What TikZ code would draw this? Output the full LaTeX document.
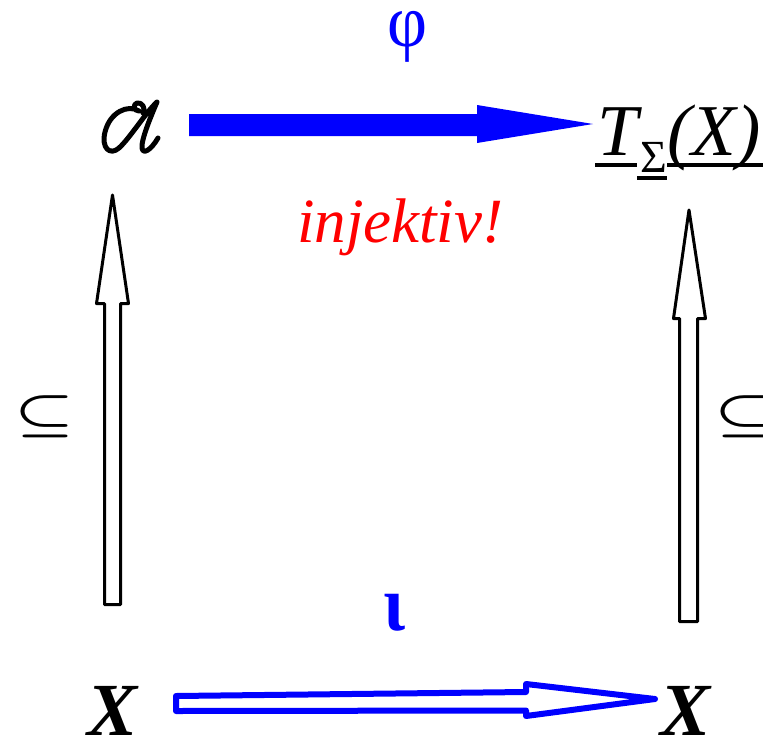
\documentclass[tikz,border=0pt]{standalone}
\usepackage{fontspec}
\setmainfont{Liberation Serif}
\usetikzlibrary{calc}
\begin{document}
\begin{tikzpicture}[x=1pt,y=-1pt,
  lbl/.style={inner sep=0pt,outer sep=0pt},
  hollowblack/.style={draw=black,line width=3pt,fill=white,line join=round},
  hollowblue/.style={draw=blue,line width=6pt,fill=white,line join=round},
  solidblue/.style={fill=blue},
  uline/.style={line width=3.5pt,line cap=butt},
  script/.style={line width=5pt,line cap=round,line join=round}]
\useasboundingbox (0,0) rectangle (763,739);

% script letter (drawn)
\coordinate (A) at (131,128);
\draw[script] (143,113) .. controls (146,108) and (142,102) .. (137,103)
  .. controls (133,104) and (133,111) .. (139,111)
  .. controls (128,104) and (110,112) .. (105,132)
  .. controls (101,148) and (110,156) .. (119,148)
  .. controls (130,138) and (146,112) .. (157,102)
  .. controls (151,116) and (141,140) .. (142,148)
  .. controls (143,155) and (151,150) .. (158,138);

% text nodes
\node[lbl,anchor=base west] (T) at (597,155) {\fontsize{73}{80}\selectfont\itshape T\hspace{3pt}\raisebox{-17pt}{\upshape\fontsize{46}{50}\selectfont Σ}(X)};
\node[lbl,anchor=base,text depth=0pt] (X1) at (113,735) {\fontsize{75}{80}\selectfont\bfseries\itshape X};
\node[lbl,anchor=base,text depth=0pt] (X2) at (686,735) {\fontsize{75}{80}\selectfont\bfseries\itshape X};
\node[lbl,text=blue] (phi) at (408,37) {\resizebox*{40pt}{51pt}{φ}};
\node[lbl,text=blue] (iota) at (394,613) {\resizebox*{22pt}{37pt}{\bfseries ι}};
\node[lbl,anchor=base west,text=red] (inj) at (297,242) {\fontsize{63}{70}\selectfont\itshape injektiv!};
\node[lbl] (s1) at (45,417) {\resizebox*{60pt}{42pt}{\boldmath$\subseteq$}};
\node[lbl] (s2) at (745,417) {\resizebox*{60pt}{42pt}{\boldmath$\subseteq$}};

% underlines of T_Sigma(X)
\draw[uline] (595,165) -- (637,165);
\draw[uline] (637,178) -- (667,178);
\draw[uline] (667,165) -- (763,165);

% top solid arrow phi
\coordinate (p0) at (189,125);
\coordinate (p1) at (593,124);
\fill[solidblue] ($(p0)+(0,-11)$) -- (477,114) -- (477,105) -- (p1) -- (477,143) -- (477,136) -- ($(p0)+(0,11)$) -- cycle;

% left hollow arrow
\coordinate (l0) at (112.5,604.5);
\coordinate (l1) at (112.5,195);
\draw[hollowblack] (104.5,604.5) -- (104.5,303.5) -- (96.5,303.5) -- (l1) -- (128.5,303.5) -- (120.5,303.5) -- (120.5,604.5) -- cycle;

% right hollow arrow
\coordinate (r0) at (688.5,621.5);
\coordinate (r1) at (689,210);
\draw[hollowblack] (679.5,621.5) -- (679.5,318.5) -- (673.5,318.5) -- (r1) -- (705.5,318.5) -- (697.5,318.5) -- (697.5,621.5) -- cycle;

% bottom hollow blue arrow iota
\coordinate (b0) at (176,703.5);
\coordinate (b1) at (655,699);
\draw[hollowblue] (176,696) -- (526,692) -- (526,684) -- (b1) -- (526,716) -- (526,710.5) -- (176,711) -- cycle;
\end{tikzpicture}
\end{document}
